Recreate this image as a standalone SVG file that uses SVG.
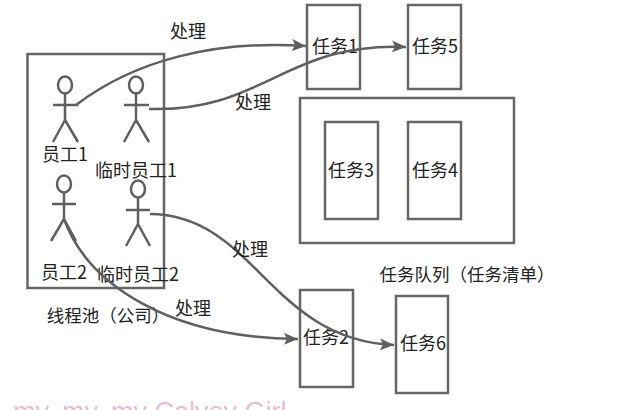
<svg xmlns="http://www.w3.org/2000/svg" width="635" height="410" viewBox="0 0 635 410">
<defs>
<marker id="arrow" markerUnits="userSpaceOnUse" markerWidth="16" markerHeight="14" refX="14" refY="6" orient="auto"><path d="M0 0L14 6L0 12L3 6Z" fill="#5f5f5f"/></marker>
</defs>
<style>
.box{fill:#fff;stroke:#666;stroke-width:2.500}
.fig{fill:none;stroke:#5f5f5f;stroke-width:2.500}
.c{fill:none;stroke:#5f5f5f;stroke-width:2.500;marker-end:url(#arrow)}
text{font-family:"Noto Sans CJK SC","Liberation Sans",sans-serif;font-size:18px;fill:#222;text-anchor:middle}
.wm{font-size:27px;fill:#e6bcd8;text-anchor:start;font-family:"Liberation Sans",sans-serif}
</style>
<rect width="635" height="410" fill="#fff"/>
<text class="wm" x="13" y="420.500">my, my, my Calvey Girl</text>
<g id="pool"><rect class="box" x="27.500" y="54" width="136.500" height="234"/><text x="108" y="322" style="font-size:17.500px">线程池（公司）</text></g>
<g id="worker1"><ellipse class="fig" cx="65" cy="85" rx="7" ry="8.500"/><path class="fig" d="M65 93.500V120M53 105H78M65 120L53 142M65 120L78 142"/><text x="65" y="161">员工1</text></g>
<g id="temp1"><ellipse class="fig" cx="136" cy="85" rx="7" ry="8.500"/><path class="fig" d="M136 93.500V120M124 105H149M136 120L124 142M136 120L149 142"/><text x="136" y="177">临时员工1</text></g>
<g id="worker2"><ellipse class="fig" cx="64" cy="184" rx="7" ry="8.500"/><path class="fig" d="M64 192.500V219M52 204H76M64 219L51 241M64 219L76 241"/><text x="64" y="279">员工2</text></g>
<g id="temp2"><ellipse class="fig" cx="138" cy="189" rx="7" ry="8.500"/><path class="fig" d="M138 197.500V224M126 210H150M138 224L126 246M138 224L150 246"/><text x="138" y="281">临时员工2</text></g>
<g id="task1"><rect class="box" x="307" y="5" width="53" height="84"/><text x="335" y="53">任务1</text></g>
<g id="task5"><rect class="box" x="408" y="5" width="53" height="84"/><text x="435" y="53">任务5</text></g>
<g id="queue"><rect class="box" x="300" y="98" width="214" height="145"/></g>
<g id="task3"><rect class="box" x="325" y="122" width="53" height="97"/><text x="351" y="177">任务3</text></g>
<g id="task4"><rect class="box" x="408" y="122" width="53" height="97"/><text x="435" y="177">任务4</text></g>
<g id="task2"><rect class="box" x="300" y="290" width="53" height="97"/><text x="326" y="344">任务2</text></g>
<g id="task6"><rect class="box" x="396" y="296" width="52" height="97"/><text x="423" y="350">任务6</text></g>
<text x="467" y="281" style="font-size:17.500px">任务队列（任务清单）</text>
<g id="connectors">
<path class="c" d="M76 105C135 60 215 40 306 46"/>
<path class="c" d="M149 109C265 112 285 42 406 47"/>
<path class="c" d="M150 214C255 215 270 340 394 345"/>
<path class="c" d="M64 219C88 285 170 338 298 339"/>
</g>
<g id="labels"><text x="188" y="38">处理</text><text x="253" y="109">处理</text><text x="250" y="256">处理</text><text x="193" y="315">处理</text></g>
</svg>
